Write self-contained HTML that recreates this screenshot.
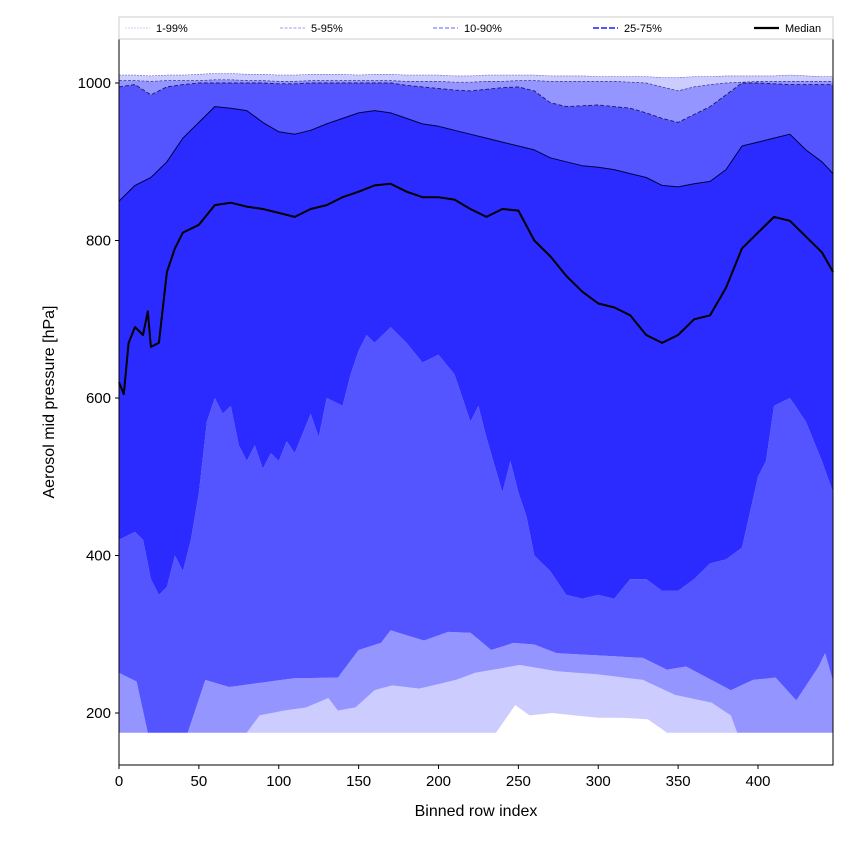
<!DOCTYPE html>
<html><head><meta charset="utf-8"><style>
body{margin:0;background:#fff;}
svg{display:block;font-family:"Liberation Sans","DejaVu Sans",sans-serif;}
</style></head><body>
<svg id="chart" width="850" height="850" viewBox="0 0 850 850">
<g id="bands"></g>
<g id="lines"></g>
<g id="axes"></g>
</svg>
<script>
const xP1=[0,236,248,257,271,285,300,314,331,343,447];
const vP1=[175,175,210,197,200,197,194,194,192,175,175];
const xP5=[0,80,88,103,117,131,137,148,160,171,188,211,223,251,274,300,328,348,371,383,387,447];
const vP5=[175,175,197,203,207,219,203,207,229,235,231,242,251,261,253,249,242,223,213,197,175,175];
const xP10=[0,11,18,43,54,69,109,137,150,164,170,191,206,220,233,247,260,274,301,328,343,355,383,397,411,424,438,442,447];
const vP10=[251,240,175,175,242,233,244,245,280,289,305,292,303,302,280,289,287,276,273,270,255,259,229,242,245,216,259,276,240];
const xP25=[0,10,15,20,25,30,35,40,45,50,55,60,65,70,75,80,85,90,95,100,105,110,120,125,130,140,145,150,155,160,170,180,190,200,210,220,225,230,240,245,250,255,260,270,280,290,300,310,320,330,340,350,360,370,380,390,400,405,410,420,430,440,447];
const vP25=[420,430,420,370,350,360,400,380,420,480,570,600,580,590,540,520,540,510,530,520,545,530,580,550,600,590,630,660,680,670,690,670,645,655,630,570,590,550,480,520,480,450,400,380,350,345,350,345,370,370,355,355,370,390,395,410,500,520,590,600,570,520,480];
const xMid=[0,3,6,10,15,18,20,25,30,35,40,50,60,70,80,90,100,110,120,130,140,150,160,170,180,190,200,210,220,230,240,250,260,270,280,290,300,310,320,330,340,350,360,370,380,390,400,410,420,430,440,447];
const vMed=[620,605,670,690,680,710,665,670,760,790,810,820,845,848,843,840,835,830,840,845,855,862,870,872,862,855,855,852,840,830,840,838,800,780,755,735,720,715,705,680,670,680,700,705,740,790,810,830,825,805,785,760];
const xHi=[0,10,20,30,40,50,60,70,80,90,100,110,120,130,140,150,160,170,180,190,200,210,220,230,240,250,260,270,280,290,300,310,320,330,340,350,360,370,380,390,400,410,420,430,440,447];
const vP75=[850,870,880,900,930,950,970,968,965,950,938,935,940,948,955,962,965,962,955,948,945,940,935,930,925,920,915,905,900,895,893,890,885,880,870,868,872,875,890,920,925,930,935,915,900,885];
const vP90=[995,998,985,995,998,1000,1000,1000,1000,1000,999,999,1000,1000,1000,1000,1000,1000,997,995,993,991,990,992,994,995,990,975,970,971,972,970,968,962,955,950,960,970,985,1000,1000,999,998,998,998,998];
const vP95=[1003,1003,1002,1003,1003,1003,1004,1004,1003,1003,1002,1002,1003,1003,1003,1003,1003,1003,1002,1002,1002,1001,1001,1002,1002,1003,1003,1002,1002,1002,1002,1002,1001,1000,995,990,995,998,1000,1001,1002,1002,1002,1002,1002,1002];
const vP99=[1010,1010,1009,1010,1010,1011,1012,1012,1011,1011,1010,1010,1011,1011,1011,1010,1011,1011,1010,1010,1010,1009,1009,1010,1010,1010,1010,1009,1009,1009,1008,1008,1008,1008,1007,1007,1008,1008,1009,1009,1009,1009,1010,1009,1008,1008];
const xTicks=[0,50,100,150,200,250,300,350,400];
const yTicks=[200,400,600,800,1000];
const legendLabels=["1-99%","5-95%","10-90%","25-75%","Median"];

const L=119,R=833,T=39,B=765;
const X=v=>L+v*1.5975;
const Y=v=>83+(1000-v)*0.7875;
const NS="http://www.w3.org/2000/svg";
function mk(tag,attrs,parent){const e=document.createElementNS(NS,tag);for(const k in attrs)e.setAttribute(k,attrs[k]);parent.appendChild(e);return e;}
function interp(xs,vs,x){if(x<=xs[0])return vs[0];for(let i=1;i<xs.length;i++){if(x<=xs[i]){const t=(x-xs[i-1])/(xs[i]-xs[i-1]);return vs[i-1]+t*(vs[i]-vs[i-1]);}}return vs[vs.length-1];}
function grid(){const s=new Set();[xP1,xP5,xP10,xP25,xMid,xHi].forEach(a=>a.forEach(v=>s.add(v)));return [...s].sort((a,b)=>a-b);}
const G=grid();
function band(xl,vl,xh,vh,color,name){
  let d="";G.forEach((x,i)=>{d+=(i?"L":"M")+X(x).toFixed(1)+","+Y(interp(xh,vh,x)).toFixed(1);});
  for(let i=G.length-1;i>=0;i--){const x=G[i];d+="L"+X(x).toFixed(1)+","+Y(interp(xl,vl,x)).toFixed(1);}
  const p=mk("path",{d:d+"Z",fill:color,stroke:"none"},document.getElementById("bands"));
  
  
}
function line(xs,vs,stroke,w,dash,name){
  const d=xs.map((x,i)=>(i?"L":"M")+X(x).toFixed(1)+","+Y(vs[i]).toFixed(1)).join("");
  const p=mk("path",{d:d,fill:"none",stroke:stroke,"stroke-width":w,"stroke-dasharray":dash,"stroke-linejoin":"round"},document.getElementById("lines"));
  
  
}
band(xP1,vP1,xP5,vP5,"#ccccff","band-p1-p5");
band(xP5,vP5,xP10,vP10,"#9595ff","band-p5-p10");
band(xP10,vP10,xP25,vP25,"#5555ff","band-p10-p25");
band(xP25,vP25,xHi,vP75,"#2b2bff","band-p25-p75");
band(xHi,vP75,xHi,vP90,"#5555ff","band-p75-p90");
band(xHi,vP90,xHi,vP95,"#9595ff","band-p90-p95");
band(xHi,vP95,xHi,vP99,"#ccccff","band-p95-p99");
line(xHi,vP99,"#6666cc",0.6,"2,1","line-p99");
line(xHi,vP95,"#333399",0.7,"3,1.5","line-p95");
line(xHi,vP90,"#1a1a66",0.9,"4,2","line-p90");
line(xHi,vP75,"#000044",1,"","line-p75");
line(xMid,vMed,"#000",2,"","median-line");

const ax=document.getElementById("axes");
const fr=mk("rect",{x:L,y:T,width:R-L,height:B-T,fill:"none",stroke:"#000","stroke-width":1},ax);


xTicks.forEach(v=>{
  mk("line",{x1:X(v),x2:X(v),y1:B,y2:B+4,stroke:"#000"},ax);
  const t=mk("text",{x:X(v),y:B+21,"text-anchor":"middle","font-size":"15"},ax);t.textContent=v;
  
  
});
yTicks.forEach(v=>{
  mk("line",{x1:L-4,x2:L,y1:Y(v),y2:Y(v),stroke:"#000"},ax);
  const t=mk("text",{x:L-8,y:Y(v)+5,"text-anchor":"end","font-size":"15"},ax);t.textContent=v;
  
  
});
const xt=mk("text",{x:(L+R)/2,y:816,"text-anchor":"middle","font-size":"16"},ax);xt.textContent="Binned row index";


const yt=mk("text",{x:0,y:0,transform:"translate(54,402) rotate(-90)","text-anchor":"middle","font-size":"16"},ax);yt.textContent="Aerosol mid pressure [hPa]";



// legend
const lg=mk("g",{},ax);


mk("rect",{x:L,y:17,width:R-L,height:22,fill:"#fff",stroke:"#ccc","stroke-width":1},lg);
const lx=[125,280,433,593,754];
const lcol=["#ccccff","#9999ff","#8080ff","#5555ff","#000"];
const lw=[1,1,1.2,2,2.2];
const ld=["2,1","3,1.5","4,2","6,2",""];
legendLabels.forEach((s,i)=>{
  const e=mk("g",{},lg);
  
  
  mk("line",{x1:lx[i],x2:lx[i]+25,y1:28,y2:28,stroke:lcol[i],"stroke-width":lw[i],"stroke-dasharray":ld[i]},e);
  const t=mk("text",{x:lx[i]+31,y:32,"font-size":"11"},e);t.textContent=s;
});
</script>
</body></html>
